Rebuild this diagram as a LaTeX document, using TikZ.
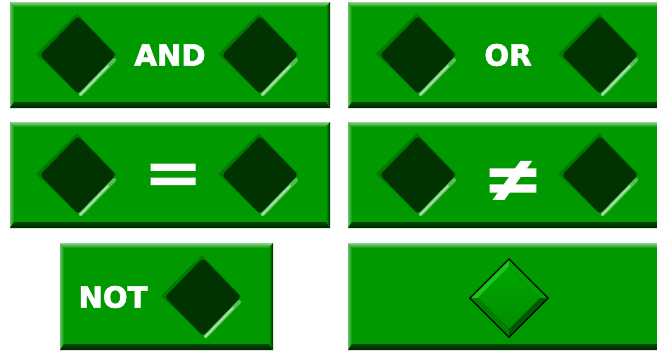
\documentclass[tikz,border=0pt]{standalone}
\usepackage{fontspec}
\usepackage{tikz}
\usetikzlibrary{positioning,calc}
\newfontfamily\gatefont{DejaVu Sans Bold}[FakeBold=2.4]
\newfontfamily\symfont{Liberation Sans Bold}[FakeBold=3.2]
\definecolor{gategreen}{HTML}{009900}
\definecolor{barlight}{HTML}{8FD48F}
\definecolor{barshadow}{HTML}{002800}
\definecolor{slotdark}{HTML}{003300}
\definecolor{slotglow}{HTML}{A8E2A8}
\tikzset{
  gatetext/.style={text=white, inner sep=0pt, font=\gatefont\fontsize{16.6}{17}\selectfont},
  symtext/.style={text=white, inner sep=0pt, font=\symfont\fontsize{48}{48}\selectfont},
}
\newcommand\bevelbar[4]{%
  \fill[gategreen] (#1,#2) rectangle (#3,#4);
  \shade[top color=barlight, bottom color=gategreen] (#1,#2) -- (#3,#2) -- (#3-4,#2+5) -- (#1+4,#2+5) -- cycle;
  \shade[left color=barlight!70!gategreen, right color=gategreen] (#1,#2) -- (#1+4,#2+5) -- (#1+4,#4-6) -- (#1,#4) -- cycle;
  \shade[top color=gategreen!45!black, bottom color=barshadow] (#1,#4) -- (#1+4,#4-6) -- (#3-4,#4-6) -- (#3,#4) -- cycle;
  \shade[left color=gategreen, right color=barshadow] (#3,#2) -- (#3-4,#2+5) -- (#3-4,#4-6) -- (#3,#4) -- cycle;
}
\newcommand\darkslot[3]{%
  \coordinate (#1) at (#2,#3);
  \begin{scope}[shift={(#1)}]
    \fill[gategreen!55!black, opacity=.45] (-42,-1) -- (-1,-42) -- (38,-1) -- (-1,38) -- cycle;
    \draw[slotglow!50!gategreen, line width=2.4pt, line cap=round] (36,5) -- (3,39);
    \draw[slotglow, line width=1pt, line cap=round] (30,11) -- (2,40);
    \fill[slotdark, rounded corners=2] (-38,0) -- (0,-39) -- (38,0) -- (0,39) -- cycle;
  \end{scope}
}
\begin{document}
\begin{tikzpicture}[x=0.02cm, y=-0.02cm]
\useasboundingbox (0,0) rectangle (657,352);
\clip (0,0) rectangle (657,352);
\bevelbar{10}{2}{330}{108}
\bevelbar{348}{2}{663}{108}
\bevelbar{10}{122}{330}{228}
\bevelbar{348}{122}{663}{228}
\bevelbar{60}{243}{273}{350}
\bevelbar{348}{243}{663}{350}
\darkslot{andL}{78}{55}
\darkslot{andR}{260}{55}
\darkslot{orL}{418}{55}
\darkslot{orR}{600}{55}
\darkslot{eqL}{78}{175}
\darkslot{eqR}{260}{175}
\darkslot{neqL}{418}{175}
\darkslot{neqR}{600}{175}
\darkslot{notR}{203}{297}
\node[gatetext] (and) at (170,55) {AND};
\node[gatetext] (or) at (508,55) {OR};
\node[symtext, yscale=0.62] (eq) at (173,178) {=};
\node[symtext, yscale=0.7] (neq) at (513,181) {≠};
\node[gatetext] (not) at (113,297) {NOT};
\coordinate (pick) at (509,298);
\begin{scope}[shift={(pick)}]
  \fill[black] (-40,0) -- (0,-40) -- (40,0) -- (0,40) -- cycle;
  \fill[green!75!black!90!white] (-38,0) -- (0,-38) -- (0,-31) -- (-31,0) -- cycle;
  \fill[green!65!black] (0,-38) -- (38,0) -- (31,0) -- (0,-31) -- cycle;
  \fill[green!35!black] (38,0) -- (0,38) -- (0,31) -- (31,0) -- cycle;
  \fill[green!50!black] (0,38) -- (-38,0) -- (-31,0) -- (0,31) -- cycle;
  \shade[top color=green!65!black, bottom color=green!55!black] (-31,0) -- (0,-31) -- (31,0) -- (0,31) -- cycle;
\end{scope}
\end{tikzpicture}
\end{document}
